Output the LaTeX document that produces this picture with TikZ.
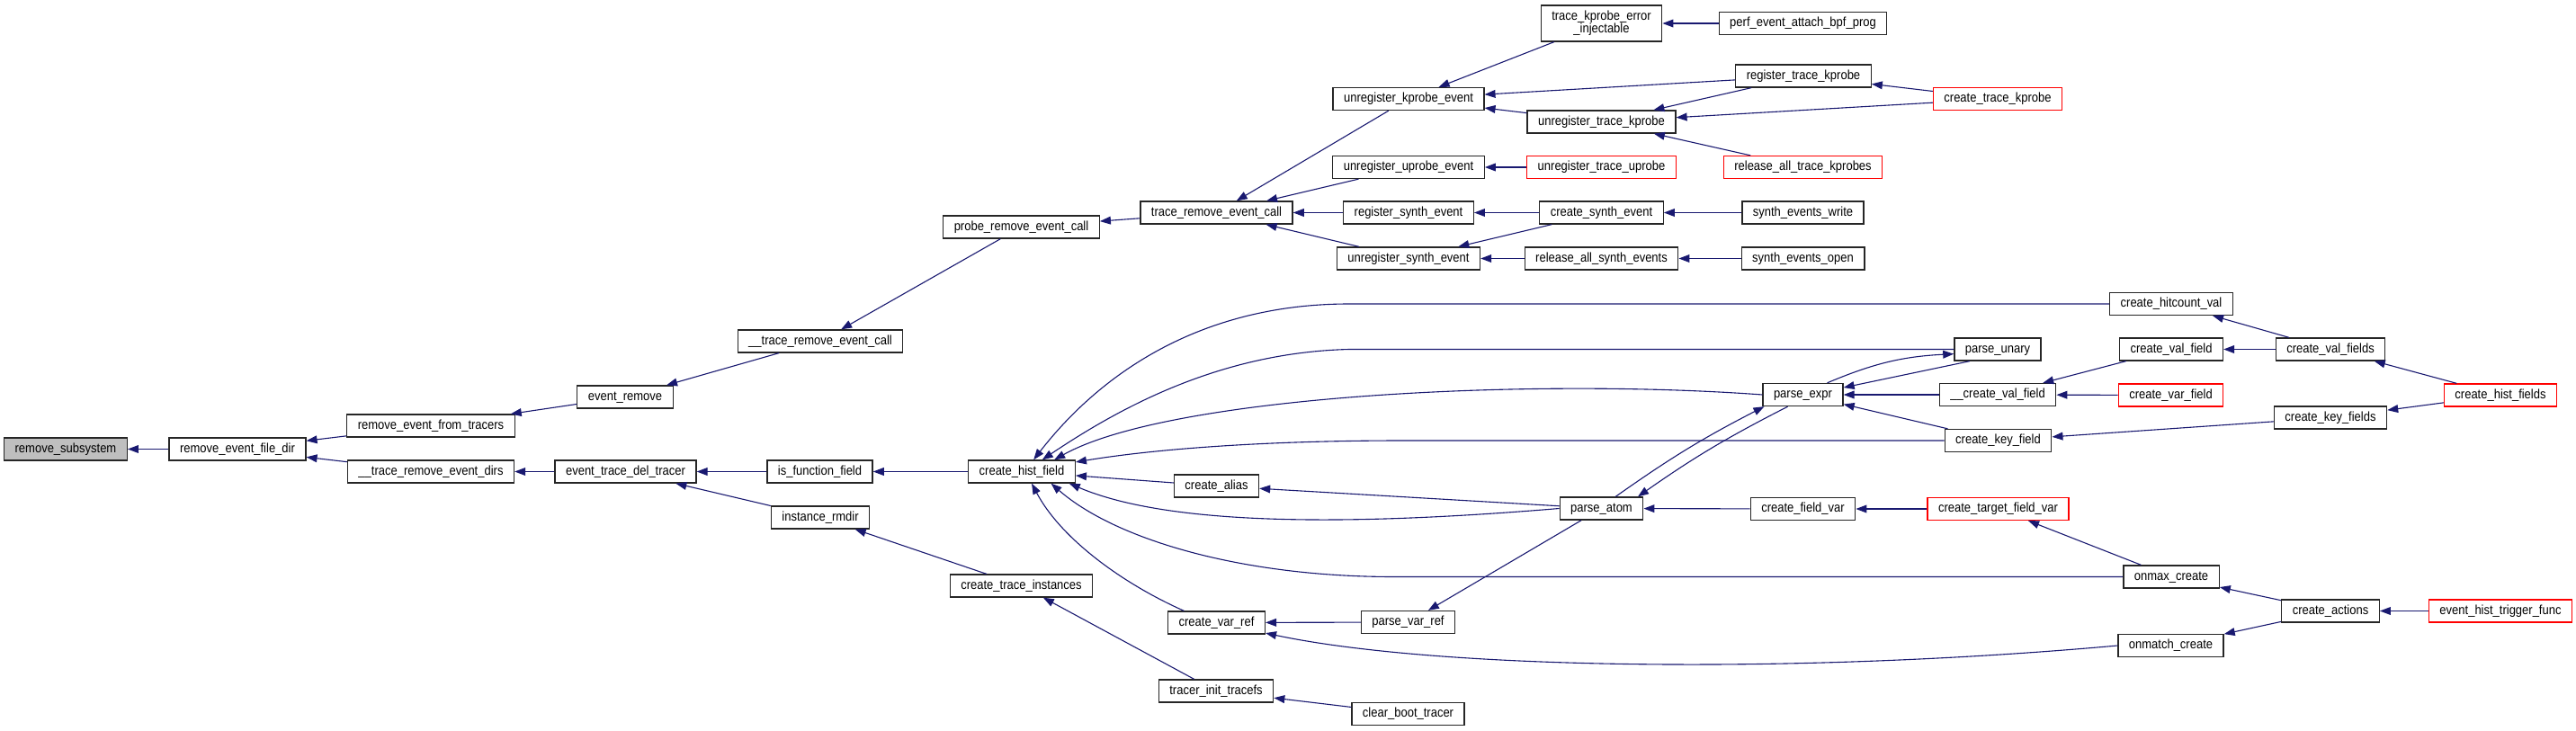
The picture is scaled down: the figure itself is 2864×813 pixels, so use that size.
\documentclass[tikz,border=0pt]{standalone}
\usepackage{fontspec}
\setmainfont{Liberation Sans}[FakeStretch=0.89]
\usepackage{xcolor}
\usepackage{tikz}
\usetikzlibrary{arrows.meta}
\definecolor{edgeblue}{HTML}{191970}
\definecolor{rootgray}{HTML}{BFBFBF}
\definecolor{cutred}{HTML}{FF0000}

\begin{document}
\begin{tikzpicture}[x=0.5pt,y=-0.5pt,
  box/.style={draw=black!85,line width=0.65pt,fill=white,inner xsep=6pt,inner ysep=0pt,
    minimum height=12.5pt,font=\fontsize{7.3pt}{7.2pt}\selectfont},
  fn/.style={box,text height=5.4pt,text depth=1.6pt},
  root/.style={fn,fill=rootgray},
  cut/.style={fn,draw=cutred},
  call/.style={draw=edgeblue,line width=0.55pt,-{Triangle[length=6pt,width=4.4pt]}}]
  \useasboundingbox (0,0) rectangle (2864,813);
  \node[root] (rmsub) at (73,499.5) {remove\_subsystem};
  \node[fn] (rmfiledir) at (264,499.5) {remove\_event\_file\_dir};
  \node[fn] (rmfromtr) at (479,473.5) {remove\_event\_from\_tracers};
  \node[fn] (trrmdirs) at (479,524.5) {\_\_trace\_remove\_event\_dirs};
  \node[fn] (evremove) at (695,441.5) {event\_remove};
  \node[fn] (deltracer) at (695.5,524.5) {event\_trace\_del\_tracer};
  \node[fn] (trrmcall) at (912,379.5) {\_\_trace\_remove\_event\_call};
  \node[fn] (isfunc) at (911.5,524.5) {is\_function\_field};
  \node[fn] (rmdir) at (912,575.5) {instance\_rmdir};
  \node[fn] (probermcall) at (1135.5,252.5) {probe\_remove\_event\_call};
  \node[fn] (histfield) at (1136,524.5) {create\_hist\_field};
  \node[fn] (instances) at (1135.5,651.5) {create\_trace\_instances};
  \node[fn] (rmcall) at (1352.5,236.5) {trace\_remove\_event\_call};
  \node[fn] (alias) at (1352.5,540.5) {create\_alias};
  \node[fn] (varref) at (1352.5,692.5) {create\_var\_ref};
  \node[fn] (tracefs) at (1352,768.5) {tracer\_init\_tracefs};
  \node[fn] (unregkp) at (1566,110) {unregister\_kprobe\_event};
  \node[fn] (unregup) at (1566,186) {unregister\_uprobe\_event};
  \node[fn] (regsynth) at (1566,236.5) {register\_synth\_event};
  \node[fn] (unregsynth) at (1566,287.5) {unregister\_synth\_event};
  \node[fn] (parsevarref) at (1565.5,692) {parse\_var\_ref};
  \node[fn] (clearboot) at (1565.5,794) {clear\_boot\_tracer};
  \node[box,align=center,minimum height=20pt] (errinj) at (1780.5,26) {trace\_kprobe\_error\\\_injectable};
  \node[fn] (unregtrkp) at (1780.5,135.5) {unregister\_trace\_kprobe};
  \node[cut] (unregtrup) at (1780.5,186) {unregister\_trace\_uprobe};
  \node[fn] (createsynth) at (1780.5,236.5) {create\_synth\_event};
  \node[fn] (relsynth) at (1780.5,287.5) {release\_all\_synth\_events};
  \node[fn] (parseatom) at (1780.5,565.5) {parse\_atom};
  \node[fn] (bpfprog) at (2004.5,26) {perf\_event\_attach\_bpf\_prog};
  \node[fn] (regtrkp) at (2005,84.5) {register\_trace\_kprobe};
  \node[cut] (relkp) at (2004.5,186) {release\_all\_trace\_kprobes};
  \node[fn] (synthwrite) at (2004.5,236.5) {synth\_events\_write};
  \node[fn] (synthopen) at (2004.5,287.5) {synth\_events\_open};
  \node[fn] (parseexpr) at (2004.5,439) {parse\_expr};
  \node[fn] (fieldvar) at (2004.5,566) {create\_field\_var};
  \node[cut] (createtrkp) at (2221,110) {create\_trace\_kprobe};
  \node[fn] (parseunary) at (2221,388.5) {parse\_unary};
  \node[fn] (mkvalfield) at (2221,439) {\_\_create\_val\_field};
  \node[fn] (keyfield) at (2221.5,490) {create\_key\_field};
  \node[cut] (targetvar) at (2221.5,566) {create\_target\_field\_var};
  \node[fn] (hitcount) at (2414,338) {create\_hitcount\_val};
  \node[fn] (valfield) at (2414,388.5) {create\_val\_field};
  \node[cut] (varfield) at (2413.5,439.5) {create\_var\_field};
  \node[fn] (onmax) at (2414,641.5) {onmax\_create};
  \node[fn] (onmatch) at (2413.5,718) {onmatch\_create};
  \node[fn] (valfields) at (2591,388.5) {create\_val\_fields};
  \node[fn] (keyfields) at (2591,464.5) {create\_key\_fields};
  \node[fn] (actions) at (2591,679.5) {create\_actions};
  \node[cut] (histfields) at (2780,439.5) {create\_hist\_fields};
  \node[cut] (trigger) at (2780,679.5) {event\_hist\_trigger\_func};
  \draw[call] (rmfiledir) -- (rmsub);
  \draw[call] (rmfromtr) -- (rmfiledir);
  \draw[call] (trrmdirs) -- (rmfiledir);
  \draw[call] (evremove) -- (rmfromtr);
  \draw[call] (deltracer) -- (trrmdirs);
  \draw[call] (trrmcall) -- (evremove);
  \draw[call] (probermcall) -- (trrmcall);
  \draw[call] (rmcall) -- (probermcall);
  \draw[call] (unregkp) -- (rmcall);
  \draw[call] (unregup) -- (rmcall);
  \draw[call] (regsynth) -- (rmcall);
  \draw[call] (unregsynth) -- (rmcall);
  \draw[call] (errinj) -- (unregkp);
  \draw[call] (regtrkp) -- (unregkp);
  \draw[call] (unregtrkp) -- (unregkp);
  \draw[call] (bpfprog) -- (errinj);
  \draw[call] (regtrkp) -- (unregtrkp);
  \draw[call] (createtrkp) -- (unregtrkp);
  \draw[call] (relkp) -- (unregtrkp);
  \draw[call] (createtrkp) -- (regtrkp);
  \draw[call] (unregtrup) -- (unregup);
  \draw[call] (createsynth) -- (regsynth);
  \draw[call] (createsynth) -- (unregsynth);
  \draw[call] (relsynth) -- (unregsynth);
  \draw[call] (synthwrite) -- (createsynth);
  \draw[call] (synthopen) -- (relsynth);
  \draw[call] (isfunc) -- (deltracer);
  \draw[call] (rmdir) -- (deltracer);
  \draw[call] (instances) -- (rmdir);
  \draw[call] (tracefs) -- (instances);
  \draw[call] (clearboot) -- (tracefs);
  \draw[call] (histfield) -- (isfunc);
  \draw[call] (hitcount.west) -- (1500,338) .. controls (1330,338) and (1220,420) .. (histfield.45);
  \draw[call] (parseunary.west) -- (1500,388.5) .. controls (1360,392) and (1250,450) .. (histfield.30);
  \draw[call] (parseexpr.west) .. controls (1700,420) and (1300,440) .. (histfield.20);
  \draw[call] (keyfield.west) -- (1560,490) .. controls (1400,490) and (1280,500) .. (histfield.10);
  \draw[call] (alias) -- (histfield);
  \draw[call] (parseatom.west) .. controls (1500,585) and (1300,585) .. (histfield.-14);
  \draw[call] (onmax.west) -- (1550,641.5) .. controls (1380,641.5) and (1240,600) .. (histfield.-22);
  \draw[call] (varref.160) .. controls (1250,650) and (1180,600) .. (histfield.-50);
  \draw[call] (onmatch.west) .. controls (2000,750) and (1600,745) .. (varref.-12);
  \draw[call] (parseatom) -- (alias);
  \draw[call] (parseatom.40) to[bend left=4] (parseexpr.197);
  \draw[call] (parseexpr.218) to[bend right=4] (parseatom.18);
  \draw[call] (parseexpr.26) to[bend left=10] (parseunary.186);
  \draw[call] (parseunary.203) -- (parseexpr.10);
  \draw[call] (mkvalfield) -- (parseexpr);
  \draw[call] (keyfield) -- (parseexpr);
  \draw[call] (fieldvar) -- (parseatom);
  \draw[call] (targetvar) -- (fieldvar);
  \draw[call] (onmax) -- (targetvar);
  \draw[call] (parseatom) -- (parsevarref);
  \draw[call] (parsevarref) -- (varref);
  \draw[call] (valfield) -- (mkvalfield);
  \draw[call] (varfield) -- (mkvalfield);
  \draw[call] (keyfields) -- (keyfield);
  \draw[call] (valfields) -- (hitcount);
  \draw[call] (valfields) -- (valfield);
  \draw[call] (histfields) -- (valfields);
  \draw[call] (histfields) -- (keyfields);
  \draw[call] (actions) -- (onmax);
  \draw[call] (actions) -- (onmatch);
  \draw[call] (trigger) -- (actions);
\end{tikzpicture}
\end{document}
